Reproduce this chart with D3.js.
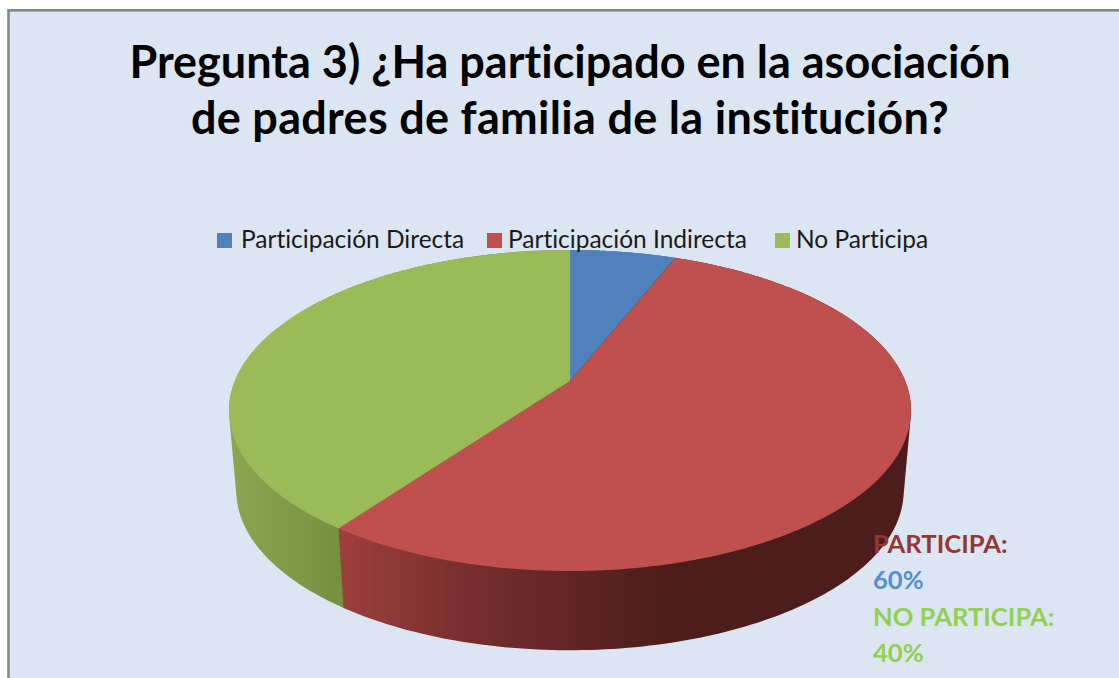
<!DOCTYPE html>
<html><head><meta charset="utf-8">
<script src="https://cdn.jsdelivr.net/npm/d3@7"></script>
<style>html,body{margin:0;padding:0;background:#fff}svg{display:block}text{font-family:Lato,sans-serif;font-variant-ligatures:none}</style>
</head><body><div id="c"></div>
<script>
const titleLines = ["Pregunta 3) ¿Ha participado en la asociación","de padres de familia de la institución?"];
const categories = ["Participación Directa","Participación Indirecta","No Participa"];
const values = [6,54,40];
const colors = ["#4f81bd","#c0504d","#9bbb59"];
const noteLines = ["PARTICIPA:","60%","NO PARTICIPA:","40%"];
const noteColors = ["#953735","#558ed5","#92d050","#92d050"];

const W=1119,H=678;
const svg=d3.select("#c").append("svg").attr("width",W).attr("height",H);
svg.append("rect").attr("x",8.5).attr("y",10.3).attr("width",W).attr("height",H).attr("fill","#dce6f2").attr("stroke","#868686").attr("stroke-width",2.6);

const color=d3.scaleOrdinal(categories,colors);
const arcs=d3.pie().sort(null).value((d,i)=>values[i])(categories);

// perspective projection of a unit disc lying flat
const persp=-0.1838;
function topPt(a){const u=Math.sin(a),v=-Math.cos(a),w=1+persp*v;return [570+335.2*u/w,(85.05*v+381)/w];}
function botPt(a){const u=Math.sin(a),v=-Math.cos(a),w=1+persp*v;return [570+328*u/w,(84*v+381)/w+80.5];}
const samples=(s,e)=>d3.range(0,181).map(i=>s+(e-s)*i/180);
const line=d3.line();

const defs=svg.append("defs");
function grad(id,x1,x2,stops){const g=defs.append("linearGradient").attr("id",id).attr("gradientUnits","userSpaceOnUse").attr("x1",x1).attr("x2",x2).attr("y1",0).attr("y2",0);
 stops.forEach(s=>g.append("stop").attr("offset",s[0]).attr("stop-color",s[1]));}
grad("sideR",338,700,[[0,"#9c403d"],[0.35,"#772f2e"],[0.9,"#4c1d1c"],[1,"#4c1d1c"]]);
grad("sideG",229,345,[[0,"#8ba751"],[1,"#748f40"]]);
const sideFill=["#3b5a80","url(#sideR)","url(#sideG)"];

// the wall of each slice is the hull of its upper and lower rims; the largest slice goes on top
const sideOrder=arcs.map((d,i)=>({d,i})).sort((a,b)=>a.d.value-b.d.value);
svg.selectAll(".side").data(sideOrder).join("path").attr("class","side")
 .attr("fill",o=>sideFill[o.i])
 .attr("d",o=>{const t=samples(o.d.startAngle,o.d.endAngle);return line(d3.polygonHull(t.map(topPt).concat(t.map(botPt))))+"Z";});
svg.selectAll(".face").data(arcs).join("path").attr("class","face")
 .attr("fill",d=>color(d.data))
 .attr("d",d=>line([[570,381]].concat(samples(d.startAngle,d.endAngle).map(topPt)))+"Z");

svg.selectAll(".title").data(titleLines).join("text").attr("class","title")
 .attr("x",570).attr("y",(d,i)=>78+i*56).attr("text-anchor","middle")
 .attr("font-size",45).attr("font-weight",700).attr("fill","#000")
 .attr("letter-spacing",(d,i)=>i?0.3:0).text(d=>d);

const legendSwatch=[217,487,775],legendText=[241,508,796];
categories.forEach((c,i)=>{
 svg.append("rect").attr("x",legendSwatch[i]).attr("y",233).attr("width",15).attr("height",15).attr("fill",color(c));
 svg.append("text").attr("x",legendText[i]).attr("y",248).attr("font-size",24.5).attr("fill","#1a1a1a").text(c);
});

svg.selectAll(".note").data(noteLines).join("text").attr("class","note")
 .attr("x",873).attr("y",(d,i)=>553+i*36.3).attr("font-size",25.6).attr("font-weight",700)
 .attr("fill",(d,i)=>noteColors[i]).text(d=>d);
</script></body></html>
